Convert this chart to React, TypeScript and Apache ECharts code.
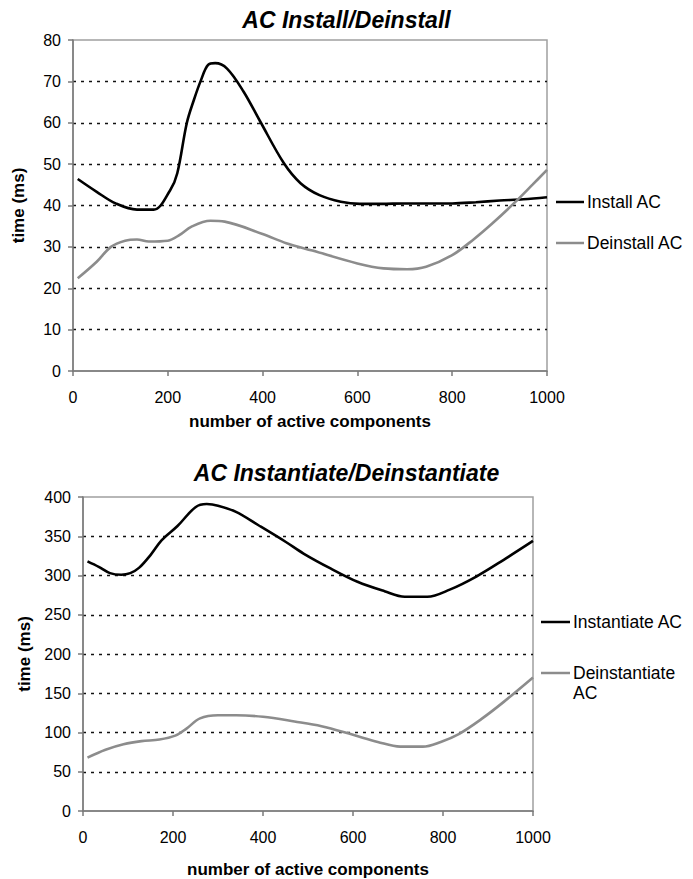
import React, { useRef, useEffect } from "react";
import * as echarts from "echarts";

// ---- Data ----
// Top chart: AC Install/Deinstall
const installX = [10, 50, 90, 135, 170, 205, 220, 240, 255, 270, 285, 300, 325, 360, 395, 445, 480, 520, 565, 605, 650, 700, 800, 850, 900, 950, 1000];
const installY = [46.4, 43.3, 40.5, 39.0, 39.0, 43.7, 47.8, 59.9, 65.5, 70.3, 74.0, 74.4, 73.1, 67.5, 60.3, 50.2, 45.4, 42.5, 40.9, 40.4, 40.4, 40.5, 40.5, 40.8, 41.2, 41.5, 42.0];
const deinstallX = [10, 50, 80, 110, 135, 160, 200, 225, 250, 290, 320, 400, 450, 505, 600, 655, 705, 745, 800, 845, 885, 930, 970, 1000];
const deinstallY = [22.4, 26.4, 30.0, 31.5, 31.8, 31.3, 31.5, 32.9, 34.9, 36.3, 36.1, 33.1, 30.9, 29.1, 26.0, 24.8, 24.6, 25.2, 28.0, 31.8, 35.7, 40.5, 45.1, 48.6];

// Bottom chart: AC Instantiate/Deinstantiate
const instantiateX = [10, 35, 60, 85, 105, 125, 150, 175, 210, 250, 275, 300, 340, 390, 450, 490, 550, 610, 670, 715, 765, 815, 875, 935, 1000];
const instantiateY = [318, 311, 303, 301, 303, 310, 326, 345, 363, 387, 391, 389, 381, 364, 343, 328, 309, 292, 280, 273, 273, 282, 299, 320, 344];
const deinstantiateX = [10, 50, 90, 130, 170, 205, 230, 260, 300, 340, 400, 470, 530, 600, 655, 705, 755, 795, 835, 885, 935, 1000];
const deinstantiateY = [68, 78, 85, 89, 91, 96, 105, 118, 122, 122, 120, 114, 108, 97, 88, 82, 82, 88, 98, 117, 139, 170];

const titles = ["AC Install/Deinstall", "AC Instantiate/Deinstantiate"];
const seriesNames = ["Install AC", "Deinstall AC", "Instantiate AC", "Deinstantiate AC"];
const xTitle = "number of active components";
const yTitle = "time (ms)";

const zip = (xs: number[], ys: number[]) => xs.map((x, i) => [x, ys[i]]);

const FONT = "'Liberation Sans', Arial, sans-serif";
const BLACK = "#000000";
const GRAY = "#8c8c8c";

function makeXAxis(gridIndex: number, nameGap: number) {
  return {
    type: "value",
    gridIndex,
    min: 0,
    max: 1000,
    interval: 200,
    name: xTitle,
    nameLocation: "middle",
    nameGap,
    nameTextStyle: { fontFamily: FONT, fontWeight: "bold", fontSize: 17, color: "#000" },
    axisLine: { show: true, lineStyle: { color: "#7a7a7a", width: 1.5 } },
    axisTick: { show: true, inside: false, length: 5, lineStyle: { color: "#7a7a7a", width: 1.5 } },
    axisLabel: { fontFamily: FONT, fontSize: 16, color: "#000", margin: 18, formatter: (v: number) => String(v) },
    splitLine: { show: false },
  };
}

function makeYAxis(gridIndex: number, max: number, interval: number) {
  return {
    type: "value",
    gridIndex,
    min: 0,
    max,
    interval,
    name: yTitle,
    nameLocation: "middle",
    nameGap: 46,
    nameRotate: 90,
    nameTextStyle: { fontFamily: FONT, fontWeight: "bold", fontSize: 17, color: "#000" },
    axisLine: { show: true, lineStyle: { color: "#7a7a7a", width: 1.5 } },
    axisTick: { show: true, inside: false, length: 5, lineStyle: { color: "#7a7a7a", width: 1.5 } },
    axisLabel: { fontFamily: FONT, fontSize: 16, color: "#000", margin: 12, formatter: (v: number) => String(v) },
    splitLine: {
      show: true,
      showMinLine: false,
      showMaxLine: false,
      lineStyle: { color: "#111", type: [3, 5], width: 1.3 },
    },
  };
}

function makeSeries(name: string, data: number[][], color: string, idx: number) {
  return {
    type: "line",
    name,
    xAxisIndex: idx,
    yAxisIndex: idx,
    data,
    smooth: 0.35,
    showSymbol: false,
    symbol: "none",
    lineStyle: { color, width: 2.6 },
    itemStyle: { color },
  };
}

export default function App() {
  const ref = useRef<HTMLDivElement>(null);
  useEffect(() => {
    document.body.style.margin = "0";
    if (!ref.current) return;
    const chart = echarts.init(ref.current, null, { renderer: "svg" });
    const titleStyle = { fontFamily: FONT, fontSize: 23, fontWeight: "bold", fontStyle: "italic", color: "#000" };
    const option = {
      animation: false,
      backgroundColor: "#ffffff",
      title: [
        { text: titles[0], left: "center", top: 8, padding: 0, textStyle: titleStyle },
        { text: titles[1], left: "center", top: 461, padding: 0, textStyle: titleStyle },
      ],
      legend: [
        {
          data: [seriesNames[0], seriesNames[1]],
          orient: "vertical",
          left: 556,
          top: 193,
          padding: 0,
          itemGap: 23,
          itemWidth: 28,
          itemHeight: 2.5,
          icon: "rect",
          textStyle: { fontFamily: FONT, fontSize: 17.5, color: "#000", padding: [0, 0, 0, -2] },
        },
        {
          data: [seriesNames[2], seriesNames[3]],
          orient: "vertical",
          left: 541,
          top: 612,
          padding: 0,
          itemGap: 11,
          itemWidth: 29,
          itemHeight: 2.5,
          icon: "rect",
          formatter: (name: string) => (name === seriesNames[3] ? "{b|}\nDeinstantiate\nAC" : name),
          textStyle: {
            fontFamily: FONT,
            fontSize: 17.5,
            lineHeight: 20,
            color: "#000",
            padding: [0, 0, 0, -2],
            rich: { b: { height: 20, lineHeight: 20 } },
          },
        },
      ],
      grid: [
        { left: 73, top: 40, width: 474, height: 331, show: true, borderColor: "#a0a0a0", borderWidth: 1.5, backgroundColor: "transparent" },
        { left: 83, top: 497, width: 450, height: 316, show: true, borderColor: "#a0a0a0", borderWidth: 1.5, backgroundColor: "transparent" },
      ],
      xAxis: [makeXAxis(0, 42), makeXAxis(1, 50)],
      yAxis: [makeYAxis(0, 80, 10), makeYAxis(1, 400, 50)],
      series: [
        makeSeries(seriesNames[0], zip(installX, installY), BLACK, 0),
        makeSeries(seriesNames[1], zip(deinstallX, deinstallY), GRAY, 0),
        makeSeries(seriesNames[2], zip(instantiateX, instantiateY), BLACK, 1),
        makeSeries(seriesNames[3], zip(deinstantiateX, deinstantiateY), GRAY, 1),
      ],
    };
    chart.setOption(option as any);
    return () => chart.dispose();
  }, []);
  return <div ref={ref} style={{ width: 693, height: 879 }} />;
}
